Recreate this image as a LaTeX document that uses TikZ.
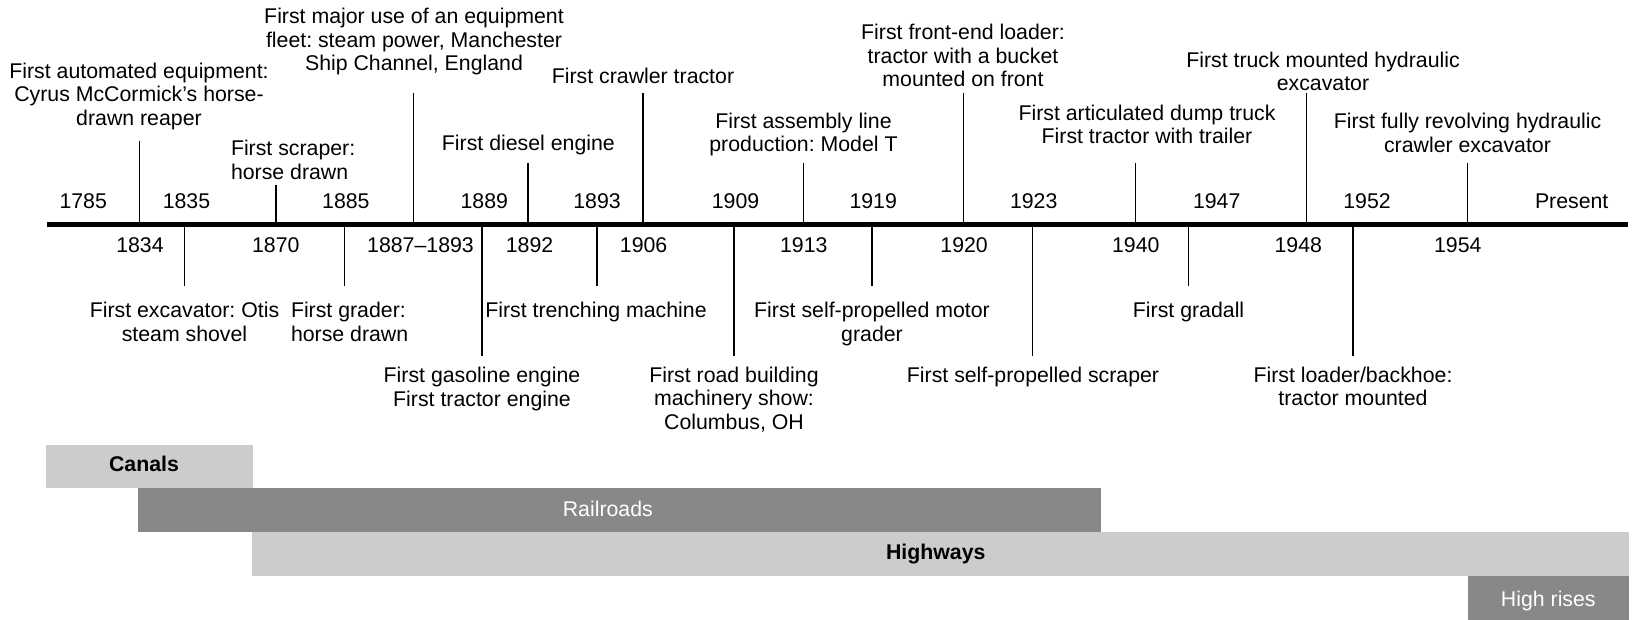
\documentclass[tikz,border=0pt]{standalone}
\usepackage{fontspec}
\setmainfont{Liberation Sans}
\frenchspacing
\definecolor{barlight}{HTML}{CCCCCC}
\definecolor{bardark}{HTML}{888888}
\begin{document}
\frenchspacing
\begin{tikzpicture}[x=1pt,y=-1pt,
  txt/.style={font=\fontsize{21.3}{23.5}\selectfont\frenchspacing, inner sep=0pt, outer sep=0pt},
  evt/.style={txt, anchor=north, align=center},
  evtl/.style={txt, anchor=north west, align=left},
  yr/.style={txt, anchor=base},
  tick/.style={line width=1.2pt, black},
  axisline/.style={line width=5pt, black},
  barlbl/.style={txt, anchor=base},
]
\useasboundingbox (0,0) rectangle (1632,620);

% ---- bars ----
\fill[barlight] (45.8,445) rectangle (252.6,488.3);
\fill[bardark] (138,488.3) rectangle (1101.4,531.7);
\fill[barlight] (252,531.7) rectangle (1628.5,575.7);
\fill[bardark] (1467.6,575.7) rectangle (1628.5,620);
\node[barlbl, font=\fontsize{21.3}{23.5}\selectfont\bfseries] (canals) at (144,471) {Canals};
\node[barlbl, text=white] (rail) at (607.8,516) {Railroads};
\node[barlbl, font=\fontsize{21.3}{23.5}\selectfont\bfseries] (hwy) at (935.8,559.3) {Highways};
\node[barlbl, text=white] (high) at (1548.3,606.6) {High rises};

% ---- axis ----
\coordinate (axL) at (47,224.5);
\coordinate (axR) at (1628,224.5);

% ---- upper ticks ----
\coordinate (t1) at (139.2,140.7);
\coordinate (t2) at (276,185);
\coordinate (t3) at (413.5,93);
\coordinate (t4) at (528,162.7);
\coordinate (t5) at (643,93);
\coordinate (t6) at (803.3,162.7);
\coordinate (t7) at (963.2,93);
\coordinate (t8) at (1135.7,162.7);
\coordinate (t9) at (1306.8,93);
\coordinate (t10) at (1467.6,162.7);
\foreach \i in {1,...,10} {\draw[tick] (t\i) -- (t\i |- axL);}

% ---- lower ticks ----
\coordinate (b1) at (184.4,286);
\coordinate (b2) at (344.6,286);
\coordinate (b3) at (482,355.7);
\coordinate (b4) at (597,286);
\coordinate (b5) at (734,355.7);
\coordinate (b6) at (872,286);
\coordinate (b7) at (1032.5,355.7);
\coordinate (b8) at (1188.7,286);
\coordinate (b9) at (1352.9,355.7);
\foreach \i in {1,...,9} {\draw[tick] (b\i) -- (b\i |- axL);}

\draw[axisline] (axL) -- (axR);

% ---- upper year labels ----
\node[yr] (y1785) at (83.2,208.3) {1785};
\node[yr] (y1835) at (186.5,208.3) {1835};
\node[yr] (y1885) at (345.9,208.3) {1885};
\node[yr] (y1889) at (484.3,208.3) {1889};
\node[yr] (y1893) at (597,208.3) {1893};
\node[yr] (y1909) at (735.5,208.3) {1909};
\node[yr] (y1919) at (873.2,208.3) {1919};
\node[yr] (y1923) at (1033.7,208.3) {1923};
\node[yr] (y1947) at (1216.7,208.3) {1947};
\node[yr] (y1952) at (1367,208.3) {1952};
\node[yr] (ypres) at (1571.7,208.3) {Present};

% ---- lower year labels ----
\node[yr] (y1834) at (140,252.7) {1834};
\node[yr] (y1870) at (275.8,252.7) {1870};
\node[yr] (y1887) at (420.5,252.7) {1887–1893};
\node[yr] (y1892) at (529.5,252.7) {1892};
\node[yr] (y1906) at (643.6,252.7) {1906};
\node[yr] (y1913) at (803.8,252.7) {1913};
\node[yr] (y1920) at (964.1,252.7) {1920};
\node[yr] (y1940) at (1135.8,252.7) {1940};
\node[yr] (y1948) at (1298.3,252.7) {1948};
\node[yr] (y1954) at (1457.8,252.7) {1954};

% ---- upper events ----
\node[evt] (e1) at (139,63) {First automated equipment:\\Cyrus McCormick’s horse-\\drawn reaper};
\node[evt] (e2) at (414,8.5) {First major use of an equipment\\fleet: steam power, Manchester\\Ship Channel, England};
\node[evtl] (e3) at (231,140.5) {First scraper:\\horse drawn};
\node[evt] (e4) at (528.4,135) {First diesel engine};
\node[evt] (e5) at (643,68) {First crawler tractor};
\node[evt] (e6) at (803.5,113) {First assembly line\\production: Model T};
\node[evt] (e7) at (963,24.5) {First front-end loader:\\tractor with a bucket\\mounted on front};
\node[evt] (e8) at (1147,105) {First articulated dump truck\\First tractor with trailer};
\node[evt] (e9) at (1323,52) {First truck mounted hydraulic\\excavator};
\node[evt] (e10) at (1467.5,113.5) {First fully revolving hydraulic\\crawler excavator};

% ---- lower events ----
\node[evt] (l1) at (184.5,302.5) {First excavator: Otis\\steam shovel};
\node[evtl] (l2) at (291,302.5) {First grader:\\horse drawn};
\node[evt] (l3) at (482,367.5) {First gasoline engine\\First tractor engine};
\node[evt] (l4) at (596,302.5) {First trenching machine};
\node[evt] (l5) at (734,367) {First road building\\machinery show:\\Columbus, OH};
\node[evt] (l6) at (872,302.5) {First self-propelled motor\\grader};
\node[evt] (l7) at (1033,367) {First self-propelled scraper};
\node[evt] (l8) at (1188.6,302.5) {First gradall};
\node[evt] (l9) at (1353,367) {First loader/backhoe:\\tractor mounted};
\end{tikzpicture}
\end{document}
